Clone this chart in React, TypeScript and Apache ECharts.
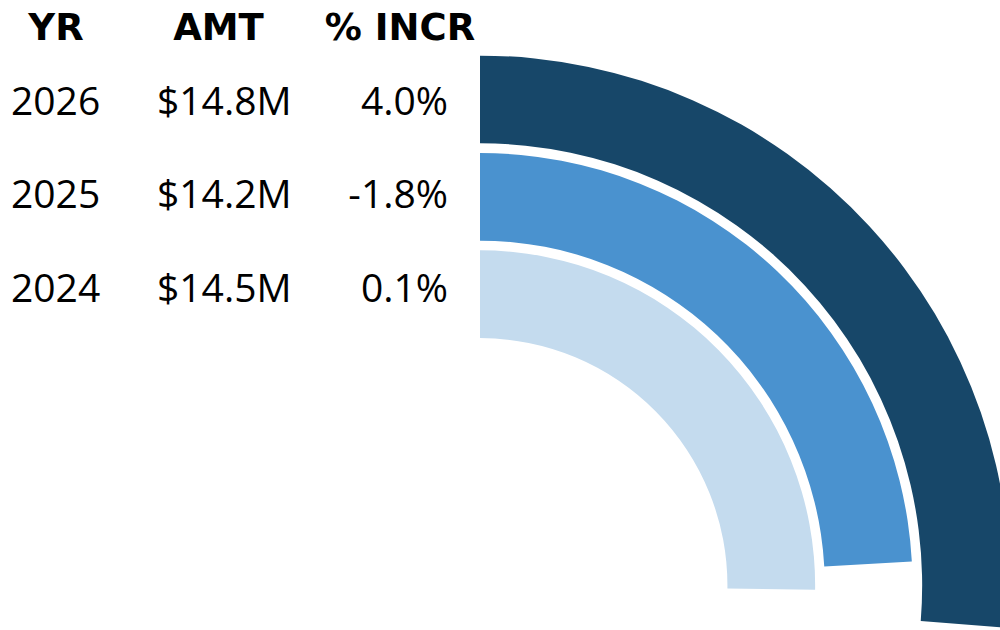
import React, { useEffect, useRef } from "react";
import * as echarts from "echarts";

const years = ["2024", "2025", "2026"];
const amounts = [14.5, 14.2, 14.8];
const amountLabels = ["$14.5M", "$14.2M", "$14.8M"];
const pctLabels = ["0.1%", "-1.8%", "4.0%"];
const colors = ["#C4DBEE", "#4A92CF", "#174769"];
const headers = ["YR", "AMT", "% INCR"];
const angleMin = 7.5;
const angleMax = 35.28;

export default function App() {
  const ref = useRef<HTMLDivElement>(null);
  useEffect(() => {
    document.body.style.margin = "0";
    const chart = echarts.init(ref.current!, null, { renderer: "svg" });
    const bodyFont = "'Open Sans', sans-serif";
    const headFont = "'DejaVu Sans', sans-serif";
    const rowY = [286.3, 192.8, 99.7];
    const graphics: any[] = [];
    const headX = [56, 218.5, 400];
    headers.forEach((h, i) => {
      graphics.push({
        type: "text",
        x: headX[i],
        y: 27.5,
        z: 100,
        style: {
          text: h,
          font: `bold 37px ${headFont}`,
          fill: "#000",
          align: "center",
          verticalAlign: "middle",
        },
      });
    });
    years.forEach((y, i) => {
      graphics.push({
        type: "text",
        x: 11,
        y: rowY[i],
        z: 100,
        style: { text: y, font: `39px ${bodyFont}`, fill: "#000", align: "left", verticalAlign: "middle" },
      });
      graphics.push({
        type: "text",
        x: 157,
        y: rowY[i],
        z: 100,
        style: { text: amountLabels[i], font: `39px ${bodyFont}`, fill: "#000", align: "left", verticalAlign: "middle" },
      });
      graphics.push({
        type: "text",
        x: 448,
        y: rowY[i],
        z: 100,
        style: { text: pctLabels[i], font: `39px ${bodyFont}`, fill: "#000", align: "right", verticalAlign: "middle" },
      });
    });

    chart.setOption({
      animation: false,
      polar: { center: [480, 585.5], radius: [242.6, 534.7] },
      angleAxis: {
        type: "value",
        startAngle: 90,
        clockwise: true,
        min: angleMin,
        max: angleMax,
        startValue: angleMin,
        show: false,
      },
      radiusAxis: {
        type: "category",
        data: years,
        show: false,
      },
      series: [
        {
          type: "bar",
          coordinateSystem: "polar",
          barWidth: 87.7,
          data: amounts.map((v, i) => ({ value: v, itemStyle: { color: colors[i] } })),
        },
      ],
      graphic: graphics,
    });
    return () => chart.dispose();
  }, []);
  return <div ref={ref} style={{ width: 1000, height: 630 }} />;
}
